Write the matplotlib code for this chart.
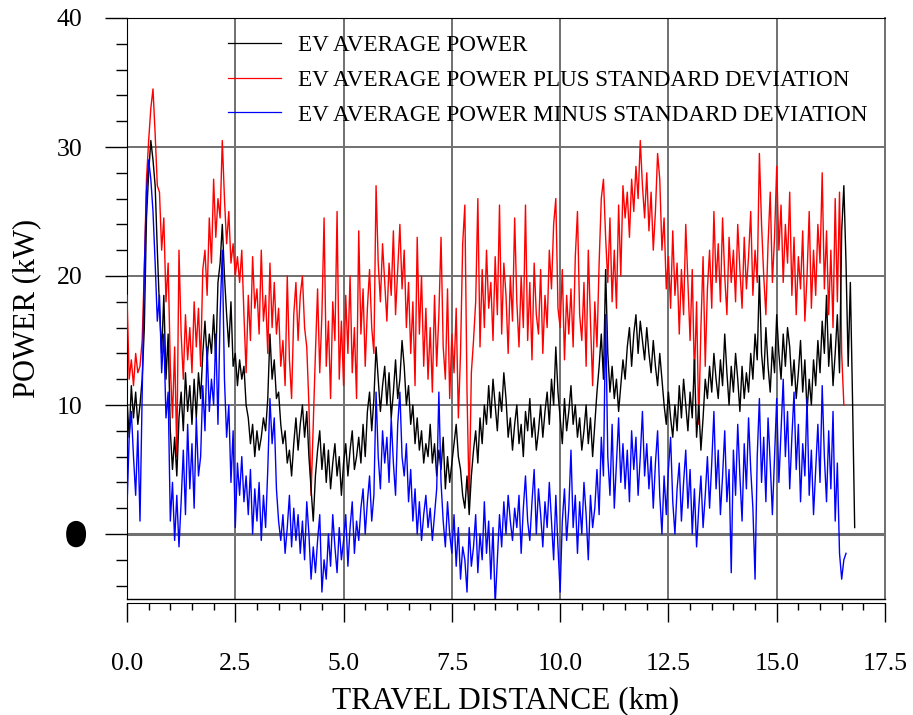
import numpy as np
import matplotlib
matplotlib.use("Agg")
import matplotlib.pyplot as plt
import matplotlib.patheffects as pe
from matplotlib.lines import Line2D
from matplotlib.ticker import MultipleLocator

plt.rcParams['font.family'] = ['Liberation Serif', 'DejaVu Serif']

# sample spacing of the recorded profiles (km)
step_km = 0.05

# EV average power (kW), 0.00 .. 16.80 km
avg_power = [
    10.5, 7.5, 11.5, 9.0, 11.0, 8.5, 10.0, 12.0, 16.0, 24.5, 28.0, 30.5, 29.0, 27.0, 22.0, 17.5, 14.0, 18.5, 12.0, 15.5,
    8.0, 5.0, 7.5, 4.5, 9.0, 11.0, 8.0, 12.5, 9.5, 11.5, 8.5, 12.0, 9.0, 12.5, 10.5, 14.0, 16.5, 13.5, 15.5, 14.0,
    17.0, 13.5, 19.5, 21.0, 24.0, 20.0, 17.0, 14.5, 18.0, 13.0, 14.0, 11.5, 13.5, 12.0, 13.0, 10.0, 9.0, 7.0, 8.5, 6.0,
    8.0, 6.5, 7.5, 9.0, 8.0, 10.5, 15.5, 12.0, 13.5, 10.5, 11.0, 8.5, 7.0, 8.0, 5.5, 6.5, 4.5, 7.0, 9.0, 6.5,
    8.5, 10.0, 7.5, 9.5, 6.0, 3.5, 1.0, 4.5, 6.5, 8.0, 5.0, 7.0, 4.0, 6.5, 3.5, 5.5, 7.0, 4.5, 6.0, 3.0,
    5.5, 7.0, 4.5, 6.5, 8.0, 5.0, 6.0, 7.5, 5.5, 8.5, 6.0, 9.5, 11.0, 8.0, 10.5, 14.5, 12.0, 9.5, 11.5, 13.0,
    10.0, 12.5, 9.0, 11.0, 13.5, 10.5, 12.0, 15.0, 13.0, 10.0, 11.5, 8.5, 10.0, 7.0, 9.0, 6.5, 8.0, 5.5, 7.0, 6.0,
    8.5, 5.5, 7.0, 4.5, 6.5, 5.0, 7.5, 3.5, 6.0, 4.0, 5.5, 7.0, 8.5, 6.0, 5.0, 3.0, 2.0, 4.5, 1.5, 4.5,
    6.5, 8.0, 5.5, 9.0, 7.0, 10.0, 8.5, 11.5, 9.0, 12.0, 10.0, 8.0, 11.0, 9.5, 12.5, 10.5, 7.5, 9.0, 6.5, 8.5,
    10.0, 7.0, 8.5, 6.0, 9.5, 8.0, 10.5, 7.5, 9.0, 6.5, 8.0, 10.0, 7.5, 9.5, 11.0, 8.5, 12.0, 10.0, 14.5, 11.0,
    9.0, 7.0, 10.5, 8.0, 9.5, 11.5, 8.5, 10.0, 7.5, 9.0, 6.5, 8.0, 10.0, 7.0, 9.0, 6.0, 8.5, 11.0, 13.0, 15.5,
    12.0, 20.5, 14.0, 11.0, 13.0, 10.5, 12.0, 9.5, 11.5, 13.5, 12.0, 14.5, 16.0, 13.0, 15.5, 17.0, 14.0, 16.5, 15.0, 13.5,
    16.0, 14.0, 12.5, 15.0, 13.0, 11.5, 14.0, 12.0, 10.0, 8.5, 11.0, 9.0, 7.5, 10.0, 8.0, 11.5, 9.0, 12.0, 10.0, 8.0,
    11.0, 9.0, 13.5, 7.5, 10.0, 6.5, 9.0, 12.0, 10.5, 13.0, 11.0, 14.0, 12.0, 10.5, 13.5, 11.5, 15.5, 12.5, 10.0, 13.0,
    11.0, 14.0, 12.0, 9.5, 13.0, 10.5, 12.5, 11.0, 14.0, 12.0, 15.5, 13.5, 20.0, 14.0, 12.0, 16.0, 13.0, 11.0, 14.5, 12.5,
    17.0, 14.0, 12.0, 15.5, 13.0, 16.0, 14.5, 11.5, 13.5, 10.5, 12.5, 15.0, 11.0, 13.5, 9.5, 12.0, 10.0, 13.5, 11.5, 15.0,
    12.5, 16.5, 14.0, 18.5, 13.0, 15.5, 11.5, 14.0, 17.0, 12.5, 23.5, 27.0, 21.0, 13.0, 19.5, 10.5, 0.5,
]

# average plus standard deviation (kW), 0.00 .. 16.55 km
plus_sd = [
    18.5, 12.0, 13.5, 11.5, 14.0, 12.5, 13.0, 15.0, 20.5, 27.5, 30.5, 33.0, 34.5, 31.0, 27.0, 26.5, 22.0, 24.5, 18.0, 21.0,
    13.0, 9.0, 14.5, 6.0, 22.0, 15.5, 12.0, 17.0, 13.5, 16.0, 12.5, 18.0, 14.5, 17.5, 13.0, 20.5, 22.0, 18.5, 24.5, 21.0,
    27.5, 23.0, 26.0, 24.5, 30.5, 26.0, 22.5, 25.0, 21.0, 22.5, 20.0, 21.5, 19.5, 22.0, 17.0, 12.5, 18.5, 15.0, 21.5, 17.5,
    19.0, 15.5, 22.0, 16.5, 18.5, 14.0, 21.0, 16.0, 19.5, 15.5, 17.5, 13.0, 15.0, 11.5, 20.0, 13.5, 10.5, 17.0, 19.5, 15.0,
    18.5, 20.0, 16.0, 14.5, 10.0, 3.0, 8.5, 14.0, 19.0, 12.5, 17.0, 24.5, 13.0, 16.5, 10.5, 18.0, 15.0, 25.0, 12.0, 16.5,
    11.5, 18.5, 14.0, 20.0, 12.5, 16.0, 10.5, 23.5, 15.5, 19.0, 13.0, 17.5, 20.5, 16.0, 14.0, 27.0, 21.0, 18.0, 22.5, 19.5,
    16.5, 21.0, 18.5, 23.5, 17.0, 20.5, 24.0, 19.0, 22.0, 16.0, 19.5, 14.0, 18.0, 11.5, 23.0, 15.5, 20.0, 13.0, 17.5, 12.0,
    16.0, 11.0, 18.5, 13.0, 17.0, 23.0, 14.5, 12.0, 19.0, 10.5, 15.5, 12.5, 17.5, 9.0, 14.0, 22.5, 25.5, 11.0, 2.5, 12.5,
    15.0, 18.0, 26.0, 14.5, 20.5, 16.0, 22.0, 17.5, 19.5, 15.0, 21.5, 17.0, 25.5, 15.5, 21.0, 18.5, 14.0, 20.0, 16.5, 24.5,
    18.0, 14.5, 20.0, 16.0, 25.5, 15.0, 19.5, 13.5, 21.0, 17.0, 15.5, 20.5, 14.0, 18.5, 16.0, 22.0, 19.0, 24.0, 26.0, 17.5,
    16.0, 20.5, 13.5, 18.5, 15.5, 19.0, 14.5, 21.5, 25.0, 17.0, 15.0, 19.5, 13.0, 22.0, 16.5, 11.5, 18.0, 14.5, 21.0, 26.0,
    27.5, 23.0, 19.5, 24.5, 18.0, 22.0, 17.5, 25.5, 20.0, 27.0, 24.5, 26.5, 23.0, 27.5, 25.0, 28.5, 26.0, 30.5, 27.0, 24.5,
    28.0, 23.5, 26.5, 22.0, 25.0, 29.5, 27.5, 22.0, 24.5, 19.0, 21.5, 17.5, 23.5, 18.5, 21.0, 15.5, 20.5, 17.0, 24.0, 19.5,
    15.0, 20.5, 12.0, 18.0, 8.5, 16.0, 21.5, 13.0, 19.0, 22.0, 17.5, 25.0, 19.5, 22.5, 18.0, 24.5, 20.0, 17.0, 23.0, 19.5,
    22.0, 18.0, 24.0, 20.5, 17.5, 23.0, 19.0, 21.5, 25.0, 18.5, 22.0, 19.5, 29.5, 24.0, 20.0, 17.0, 22.5, 26.5, 19.5, 23.0,
    28.5, 22.0, 25.5, 19.5, 24.0, 21.0, 26.5, 18.5, 23.0, 17.0, 21.5, 19.0, 23.5, 16.5, 20.0, 25.0, 17.5, 22.0, 18.5, 24.0,
    21.0, 28.0, 19.0, 23.5, 17.0, 22.0, 16.0, 26.0, 18.0, 26.5, 14.0, 10.0,
]

# average minus standard deviation (kW), 0.00 .. 16.60 km
minus_sd = [
    2.0, 7.5, 9.5, 6.0, 3.0, 8.0, 1.0, 11.0, 20.5, 26.5, 29.0, 27.5, 25.0, 21.0, 16.5, 18.5, 12.5, 15.5, 9.0, 11.0,
    1.0, 4.0, -0.5, 3.0, -1.0, 2.5, 6.5, 1.5, 8.5, 3.5, 7.0, 2.0, 9.0, 4.5, 6.0, 11.5, 8.0, 14.5, 9.5, 12.0,
    10.0, 15.5, 8.5, 17.0, 22.0, 12.0, 7.5, 10.0, 4.0, 8.0, 0.5, 5.5, 3.0, 6.0, 2.5, 4.5, 1.5, 5.0, 0.0, 3.5,
    1.0, 4.0, -0.5, 3.0, 0.5, 5.0, 10.5, 7.0, 9.0, 3.5, 1.0, -0.5, 1.5, -1.5, 0.5, 3.0, -1.0, 2.0, -0.5, 1.5,
    -1.5, 1.0, -2.0, 2.5, 0.0, -3.5, -1.0, -3.0, -0.5, 1.5, -4.5, -2.0, -3.5, 0.0, -2.5, 1.5, -1.0, -3.0, 0.5, -2.0,
    -0.5, 1.5, -2.5, 0.5, 2.5, -1.5, 1.0, -0.5, 2.0, 3.5, 0.0, 2.5, 4.5, 1.0, 3.0, 11.0, 6.0, 3.5, 8.0, 5.5,
    7.5, 4.0, 9.0, 5.5, 3.0, 8.5, 11.0, 6.0, 4.5, 7.0, 2.5, 5.0, 1.0, 3.5, 0.0, 2.5, -0.5, 1.5, 3.0, 0.5,
    2.0, -0.5, 1.5, 3.5, 11.0, 4.0, 1.0, -1.0, 2.5, 0.0, -1.5, 1.5, -2.5, 0.5, -3.5, -1.0, -2.0, -4.5, 0.5, -2.5,
    -1.0, 1.5, -3.0, 0.0, -2.0, 2.5, -1.5, 1.0, -3.5, 0.5, -5.5, -2.0, 1.5, -1.0, 2.5, 0.0, 3.0, 1.0, -0.5, 2.0,
    0.5, 3.0, -1.5, 2.0, 4.5, 1.0, -0.5, 2.5, 5.0, 0.0, 3.5, 1.5, -1.0, 2.5, 0.5, 4.0, 1.0, -2.0, 3.0, -1.0,
    -4.5, 1.0, 3.5, -0.5, 2.0, 6.5, 0.5, 3.0, -1.5, 2.5, 0.0, 4.0, 1.5, -2.0, 3.0, 0.5, 2.0, 5.0, 1.5, 7.5,
    4.5, 17.0, 6.0, 3.0, 8.5, 2.0, 5.5, 9.0, 4.0, 7.0, 3.5, 6.5, 2.5, 8.0, 5.0, 7.5, 3.0, 6.0, 9.5, 4.5,
    7.0, 3.5, 6.0, 2.0, 5.5, 8.0, 3.0, 0.0, 4.5, 1.5, 5.0, 7.5, 2.5, 0.0, 3.5, 5.5, 1.0, 4.0, 6.5, 2.0,
    5.0, 0.0, 3.5, -1.0, 2.0, 4.5, 0.5, 3.0, 6.0, 2.0, 5.5, 9.5, 3.5, 6.5, 1.5, 4.5, 8.0, 2.5, 5.0, -3.0,
    6.5, 3.0, 8.5, 4.5, 1.0, 7.0, 3.5, 9.0, 5.0, 2.0, -3.5, 6.0, 10.5, 4.0, 7.5, 2.5, 9.0, 5.5, 1.5, 6.0,
    10.5, 4.0, 8.0, 12.0, 6.0, 9.5, 3.5, 7.5, 11.0, 5.0, 8.5, 2.5, 7.0, 4.5, 10.5, 3.0, 6.5, 1.5, 5.0, 8.5,
    4.0, 11.5, 6.0, 2.5, 8.0, 3.5, 9.5, 1.0, 5.5, -1.5, -3.5, -2.0, -1.5,
]

series_labels = [
    "EV AVERAGE POWER",
    "EV AVERAGE POWER PLUS STANDARD DEVIATION",
    "EV AVERAGE POWER MINUS STANDARD DEVIATION",
]
x_ticks = [0.0, 2.5, 5.0, 7.5, 10.0, 12.5, 15.0, 17.5]
y_ticks = [0, 10, 20, 30, 40]

dist_avg = np.arange(len(avg_power)) * step_km
dist_plus = np.arange(len(plus_sd)) * step_km
dist_minus = np.arange(len(minus_sd)) * step_km

W, H = 913, 715
fig = plt.figure(figsize=(W / 100, H / 100), dpi=100)
ax = fig.add_axes([127 / W, 1 - 598.5 / H, (885 - 127) / W, (598.5 - 18) / H])

grid_col = "#707070"
ax.plot(dist_plus, plus_sd, color="red", lw=1.0, zorder=3)
ax.plot(dist_avg, avg_power, color="black", lw=1.0, zorder=4)
ax.plot(dist_minus, minus_sd, color="blue", lw=1.0, zorder=5)

ax.set_xlim(0, 17.5)
ax.set_ylim(-5, 40)
ax.set_xticks(x_ticks)
ax.set_xticklabels([f"{t:.1f}" for t in x_ticks])
ax.set_yticks(y_ticks)
ax.set_yticklabels([str(t) for t in y_ticks])
ax.xaxis.set_minor_locator(MultipleLocator(0.5))
ax.yaxis.set_minor_locator(MultipleLocator(2))

ax.grid(True, which="major", color=grid_col, lw=1.4, zorder=1)
ax.axhline(0, color=grid_col, lw=2.2, zorder=1)

ax.tick_params(axis="x", which="major", direction="out", length=14, width=1, pad=22, labelsize=18.5)
ax.tick_params(axis="x", which="minor", direction="out", length=5, width=1)
ax.tick_params(axis="y", which="major", direction="out", length=16, width=1, pad=16, labelsize=18.5)
ax.tick_params(axis="y", which="minor", direction="out", length=8, width=1)

ax.spines["bottom"].set_position(("outward", 3))
ax.spines["right"].set_color(grid_col)
ax.spines["right"].set_linewidth(1.4)
ax.plot([0, 1], [0, 0], transform=ax.transAxes, color="black", lw=1, clip_on=False, zorder=6)

# the zero label is rendered as a filled blob in the original
for lab in ax.get_yticklabels():
    if lab.get_text() == "0":
        lab.set_path_effects([pe.withStroke(linewidth=6.5, foreground="black")])

ax.set_xlabel("TRAVEL DISTANCE (km)", fontsize=22.5, labelpad=8)
ax.set_ylabel("POWER (kW)", fontsize=22, labelpad=11)

handles = [Line2D([], [], color=c, lw=0.9) for c in ("black", "red", "blue")]
ax.legend(handles, series_labels, loc="upper left",
          bbox_to_anchor=(228 / W, 1 - 35 / H), bbox_transform=fig.transFigure,
          frameon=False, fontsize=16.7, handlelength=2.27, handletextpad=0.74,
          labelspacing=0.58, borderpad=0, borderaxespad=0)

fig.savefig("out.png", dpi=100)
